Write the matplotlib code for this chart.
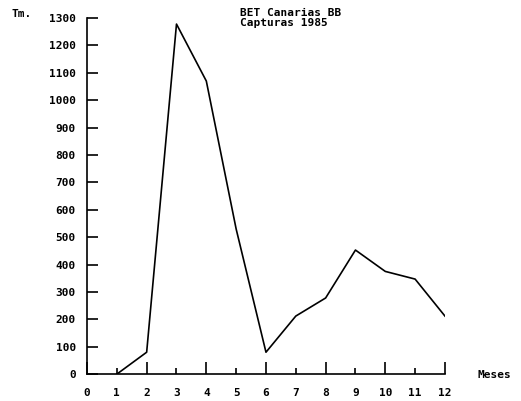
import matplotlib
matplotlib.use("Agg")
import matplotlib.pyplot as plt

# monthly catches (Tm.)
meses = [1, 2, 3, 4, 5, 6, 7, 8, 9, 10, 11, 12]
capturas = [0, 80, 1278, 1070, 530, 80, 212, 278, 453, 375, 347, 212]

x_pares = [0, 2, 4, 6, 8, 10, 12]
x_impares = [1, 3, 5, 7, 9, 11]
y_ticks = list(range(0, 1301, 100))

plt.rcParams['font.family'] = 'DejaVu Sans Mono'
plt.rcParams['font.weight'] = 'bold'

fig = plt.figure(figsize=(5.21, 4.01), dpi=100)
ax = fig.add_axes([0.167, 0.067, 0.687, 0.888])

ax.plot(meses, capturas, color='black', linewidth=1.2)

ax.set_xlim(0, 12)
ax.set_ylim(0, 1300)
ax.spines['top'].set_visible(False)
ax.spines['right'].set_visible(False)
ax.spines['left'].set_linewidth(1.2)
ax.spines['bottom'].set_linewidth(1.2)

# long ticks on even months, short on odd ones
ax.set_xticks(x_pares, [str(v) for v in x_pares])
ax.set_xticks(x_impares, [str(v) for v in x_impares], minor=True)
ax.tick_params(axis='x', which='major', direction='in', length=9, width=1.2, pad=10, labelsize=8)
ax.tick_params(axis='x', which='minor', direction='in', length=4, width=1.2, pad=10, labelsize=8)

ax.set_yticks(y_ticks, [str(v) for v in y_ticks])
ax.tick_params(axis='y', direction='in', length=8, width=1.2, pad=8, labelsize=8)

fig.text(0.023, 0.965, 'Tm.', fontsize=8, va='center')
fig.text(0.917, 0.065, 'Meses', fontsize=8, va='center')
fig.text(0.46, 0.955, 'BET Canarias BB\nCapturas 1985', fontsize=8, va='center',
         linespacing=1.0)

fig.savefig('out.png', dpi=100)
